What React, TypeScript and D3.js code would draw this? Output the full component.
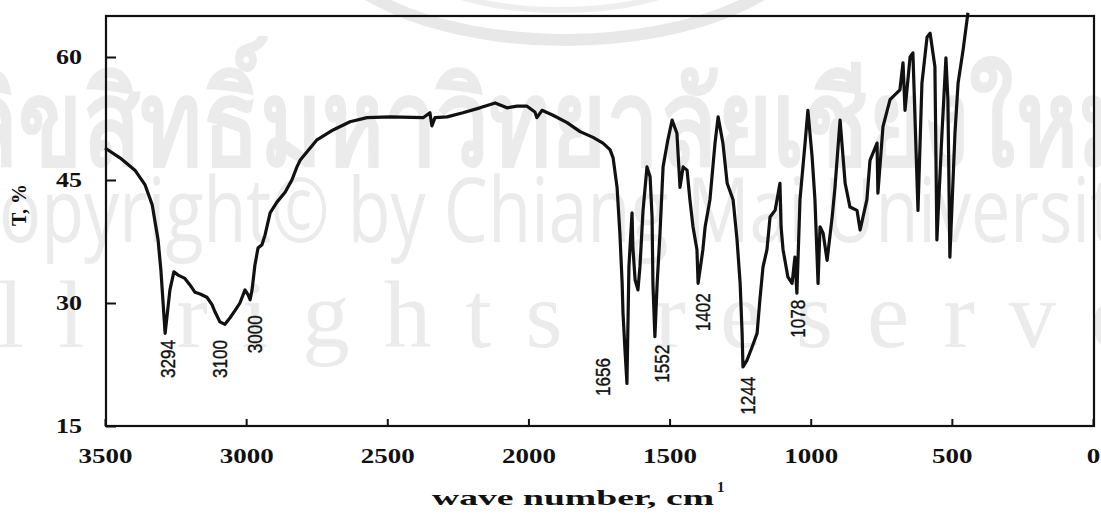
import React, { useEffect, useRef } from "react";
import * as d3 from "d3";

// IR spectrum (wave number in cm-1, transmittance in %)
const wavenumbers = [
  3500, 3447, 3394, 3358, 3333, 3312, 3302, 3295, 3287, 3270, 3256, 3241, 3217, 3199, 3181, 3163,
  3139, 3121, 3110, 3093, 3075, 3057, 3039, 3022, 3004, 2993, 2986, 2979, 2969, 2958, 2944, 2933,
  2915, 2891, 2862, 2838, 2820, 2809, 2749, 2692, 2632, 2572, 2490, 2373, 2349, 2342, 2331, 2288,
  2232, 2172, 2118, 2076, 2040, 2005, 1977, 1970, 1952, 1913, 1863, 1817, 1771, 1736, 1711, 1700,
  1686, 1676, 1668, 1665, 1658, 1651, 1644, 1633, 1630, 1622, 1612, 1605, 1594, 1580, 1569, 1562,
  1559, 1552, 1544, 1534, 1523, 1506, 1491, 1474, 1463, 1452, 1438, 1428, 1417, 1403, 1399, 1382,
  1374, 1357, 1339, 1328, 1311, 1296, 1275, 1261, 1250, 1243, 1240, 1226, 1208, 1190, 1180, 1169,
  1155, 1144, 1126, 1109, 1105, 1098, 1081, 1066, 1056, 1049, 1038, 1020, 1010, 995, 985, 974,
  967, 956, 942, 924, 914, 896, 878, 861, 836, 825, 801, 790, 765, 762, 744, 719,
  684, 673, 666, 648, 638, 620, 606, 588, 577, 560, 553, 535, 521, 514, 507, 489,
  478, 460, 443
];

const transmittance = [
  48.9, 47.7, 46.2, 44.4, 42.0, 37.7, 34.0, 30.4, 26.3, 31.6, 33.8, 33.4, 33.0, 32.2, 31.3, 31.1,
  30.7, 29.8, 28.9, 27.7, 27.4, 28.2, 29.1, 30.0, 31.6, 31.0, 30.4, 31.6, 34.6, 36.7, 37.1, 38.3,
  41.0, 42.3, 43.5, 45.0, 46.6, 47.4, 49.9, 51.1, 52.1, 52.6, 52.7, 52.6, 53.2, 51.6, 52.6, 52.7,
  53.2, 53.8, 54.4, 53.8, 54.0, 54.0, 53.3, 52.6, 53.5, 52.9, 52.0, 50.9, 50.2, 49.5, 48.7, 47.7,
  44.1, 38.5, 32.4, 28.8, 24.3, 20.2, 34.4, 41.0, 36.8, 32.8, 31.6, 34.4, 41.3, 46.6, 45.4, 40.5,
  32.4, 25.9, 32.4, 38.5, 46.6, 49.9, 52.3, 50.7, 44.1, 46.6, 46.2, 42.6, 39.3, 36.5, 32.4, 36.5,
  39.3, 42.6, 49.5, 52.7, 49.5, 44.6, 42.6, 37.7, 32.4, 26.3, 22.2, 23.0, 24.6, 26.3, 30.4, 34.4,
  36.5, 40.5, 41.3, 44.6, 39.3, 36.5, 33.2, 32.4, 35.6, 31.2, 42.6, 49.5, 53.5, 47.8, 42.6, 32.4,
  39.3, 38.5, 35.2, 40.5, 44.1, 52.3, 44.6, 41.7, 41.3, 38.9, 42.6, 47.4, 49.5, 43.4, 51.5, 54.8,
  56.0, 59.3, 53.5, 60.0, 60.5, 41.3, 56.8, 62.4, 62.9, 58.8, 37.7, 50.7, 59.9, 54.8, 35.6, 50.7,
  56.8, 60.9, 65.4
];

const xTicks = [3500, 3000, 2500, 2000, 1500, 1000, 500, 0];
const yTicks = [15, 30, 45, 60];

// peak annotations: text, and the point (wave number, T) where the rotated label ends
const peakLabels = ["3294", "3100", "3000", "1656", "1552", "1402", "1244", "1078"];
const peakLabelWn = [3277, 3093, 2969, 1736, 1527, 1382, 1222, 1045];
const peakLabelT = [25.5, 25.5, 28.5, 23.3, 24.9, 31.2, 21.0, 30.4];

const W = 1101;
const H = 516;

export default function App() {
  const ref = useRef<SVGSVGElement>(null);

  useEffect(() => {
    const svg = d3.select(ref.current);
    svg.selectAll("*").remove();

    const x = d3.scaleLinear().domain([3500, 0]).range([105, 1093]);
    const y = d3.scaleLinear().domain([15, 65]).range([426, 16]);

    svg.append("rect").attr("width", W).attr("height", H).attr("fill", "#fff");

    // faint watermark of the scanned page
    const wm = svg.append("g").attr("fill", "#ebebeb");
    wm.append("ellipse")
      .attr("cx", 565).attr("cy", -78).attr("rx", 250).attr("ry", 118)
      .attr("fill", "none").attr("stroke", "#e8e8e8").attr("stroke-width", 12);
    wm.append("ellipse")
      .attr("cx", 560).attr("cy", -60).attr("rx", 170).attr("ry", 70)
      .attr("fill", "none").attr("stroke", "#eeeeee").attr("stroke-width", 6);
    wm.append("text")
      .attr("x", -40).attr("y", 165)
      .attr("font-family", "'Noto Sans', 'DejaVu Sans', sans-serif")
      .attr("font-weight", "bold")
      .attr("font-size", 120)
      .attr("textLength", 1180)
      .attr("lengthAdjust", "spacingAndGlyphs")
      .text("ลิขสิทธิ์มหาวิทยาลัยเชียงใหม่");
    wm.append("text")
      .attr("x", -45).attr("y", 242)
      .attr("font-family", "'Open Sans', 'Noto Sans', sans-serif")
      .attr("font-size", 90)
      .attr("textLength", 1195)
      .attr("lengthAdjust", "spacingAndGlyphs")
      .text("Copyright\u00A9 by Chiang Mai University");
    wm.append("text")
      .attr("x", -105).attr("y", 347)
      .attr("font-family", "'Liberation Serif', serif")
      .attr("font-size", 95)
      .attr("letter-spacing", 34)
      .text("All rights reserved");

    // spectrum
    const pts = d3.zip(wavenumbers, transmittance) as [number, number][];
    const line = d3.line<[number, number]>()
      .x(d => x(d[0]))
      .y(d => y(d[1]));
    svg.append("path")
      .datum(pts)
      .attr("d", line)
      .attr("fill", "none")
      .attr("stroke", "#111")
      .attr("stroke-width", 3.2)
      .attr("stroke-linejoin", "round");

    // axes
    const xAxis = svg.append("g")
      .attr("transform", `translate(0,${y(15)})`)
      .call(d3.axisBottom(x).tickValues(xTicks).tickFormat(d3.format("d"))
        .tickSize(-7).tickSizeOuter(0).tickPadding(23));
    const yAxis = svg.append("g")
      .attr("transform", `translate(${x(3500) + 1},0)`)
      .call(d3.axisLeft(y).tickValues(yTicks).tickFormat(d3.format("d"))
        .tickSize(-10).tickSizeOuter(0).tickPadding(24));

    [xAxis, yAxis].forEach(g => {
      g.select(".domain").remove();
      g.attr("font-family", "'Liberation Serif', serif").attr("font-size", 20).attr("font-weight", "bold");
      g.selectAll("line").attr("stroke", "#111").attr("stroke-width", 2);
      g.selectAll("text").attr("fill", "#111");
    });
    xAxis.selectAll<SVGTextElement, number>("text")
      .attr("textLength", d => String(d).length * 13.5)
      .attr("lengthAdjust", "spacingAndGlyphs");
    yAxis.selectAll<SVGTextElement, number>("text")
      .attr("textLength", d => String(d).length * 13)
      .attr("lengthAdjust", "spacingAndGlyphs");

    // frame
    svg.append("rect")
      .attr("x", x(3500) + 1).attr("y", y(65))
      .attr("width", x(0) - x(3500)).attr("height", y(15) - y(65))
      .attr("fill", "none").attr("stroke", "#111").attr("stroke-width", 2.2);

    // peak labels
    svg.append("g")
      .selectAll("text")
      .data(peakLabels)
      .enter()
      .append("text")
      .attr("transform", (d, i) => `translate(${x(peakLabelWn[i])},${y(peakLabelT[i])}) rotate(-90)`)
      .attr("text-anchor", "end")
      .attr("dominant-baseline", "central")
      .attr("font-family", "'Liberation Sans', Arial, sans-serif")
      .attr("font-size", 20)
      .attr("textLength", 38)
      .attr("lengthAdjust", "spacingAndGlyphs")
      .attr("fill", "#111")
      .attr("stroke", "#111")
      .attr("stroke-width", 0.4)
      .text(d => d);

    // axis titles
    svg.append("text")
      .attr("transform", `translate(26,${205}) rotate(-90)`)
      .attr("text-anchor", "middle")
      .attr("font-family", "'Liberation Serif', serif")
      .attr("font-weight", "bold")
      .attr("font-size", 20)
      .attr("fill", "#111")
      .text("T, %");
    svg.append("text")
      .attr("x", 432).attr("y", 505)
      .attr("font-family", "'Liberation Serif', serif")
      .attr("font-weight", "bold")
      .attr("font-size", 21)
      .attr("textLength", 282)
      .attr("lengthAdjust", "spacingAndGlyphs")
      .attr("fill", "#111")
      .text("wave number, cm");
    svg.append("text")
      .attr("x", 717).attr("y", 492)
      .attr("font-family", "'Liberation Serif', serif")
      .attr("font-weight", "bold")
      .attr("font-size", 15)
      .attr("fill", "#111")
      .text("1");
  }, []);

  return (
    <svg
      ref={ref}
      width={W}
      height={H}
      style={{ position: "absolute", left: 0, top: 0 }}
    />
  );
}
